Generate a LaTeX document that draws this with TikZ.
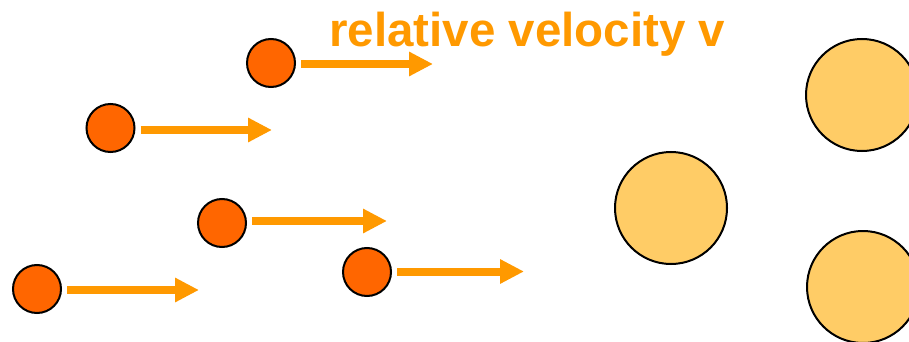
\documentclass[tikz,border=0pt]{standalone}
\usepackage{fontspec}
\setmainfont{Liberation Sans}
\usetikzlibrary{arrows.meta}
\definecolor{smallfill}{HTML}{FF6600}
\definecolor{bigfill}{HTML}{FFCC66}
\definecolor{arrcol}{HTML}{FF9900}
\tikzset{
  particle/.style={circle, draw=black, line width=2pt, fill=smallfill, minimum size=48pt, inner sep=0pt},
  target/.style={circle, draw=black, line width=2pt, fill=bigfill, minimum size=112pt, inner sep=0pt},
  velarrow/.style={draw=arrcol, line width=8pt, shorten <=5pt,
    -{Triangle[length=24pt 0 0, width=23pt 0 0, fill=arrcol]}},
  label/.style={text=arrcol, font=\fontsize{47.5pt}{50pt}\selectfont\bfseries, inner sep=0pt, anchor=base west}
}
\begin{document}
\begin{tikzpicture}[x=1pt,y=-1pt]
\useasboundingbox (0,0) rectangle (909,342);
\node[label] (title) at (329,46.5) {relative velocity v};
\node[particle] (c1) at (271,63) {};
\node[particle] (c2) at (110.5,128) {};
\node[particle] (c3) at (222,223) {};
\node[particle] (c4) at (367,272) {};
\node[particle] (c5) at (37,289) {};
\coordinate (e1) at (433,64);
\coordinate (e2) at (272,130);
\coordinate (e3) at (387,221);
\coordinate (e4) at (524,271.5);
\coordinate (e5) at (199,290);
\draw[velarrow] (c1.east |- e1) -- (e1);
\draw[velarrow] (c2.east |- e2) -- (e2);
\draw[velarrow] (c3.east |- e3) -- (e3);
\draw[velarrow] (c4.east |- e4) -- (e4);
\draw[velarrow] (c5.east |- e5) -- (e5);
\node[target] (t1) at (671,208) {};
\node[target] (t2) at (862,95) {};
\node[target] (t3) at (863,287) {};
\end{tikzpicture}
\end{document}
